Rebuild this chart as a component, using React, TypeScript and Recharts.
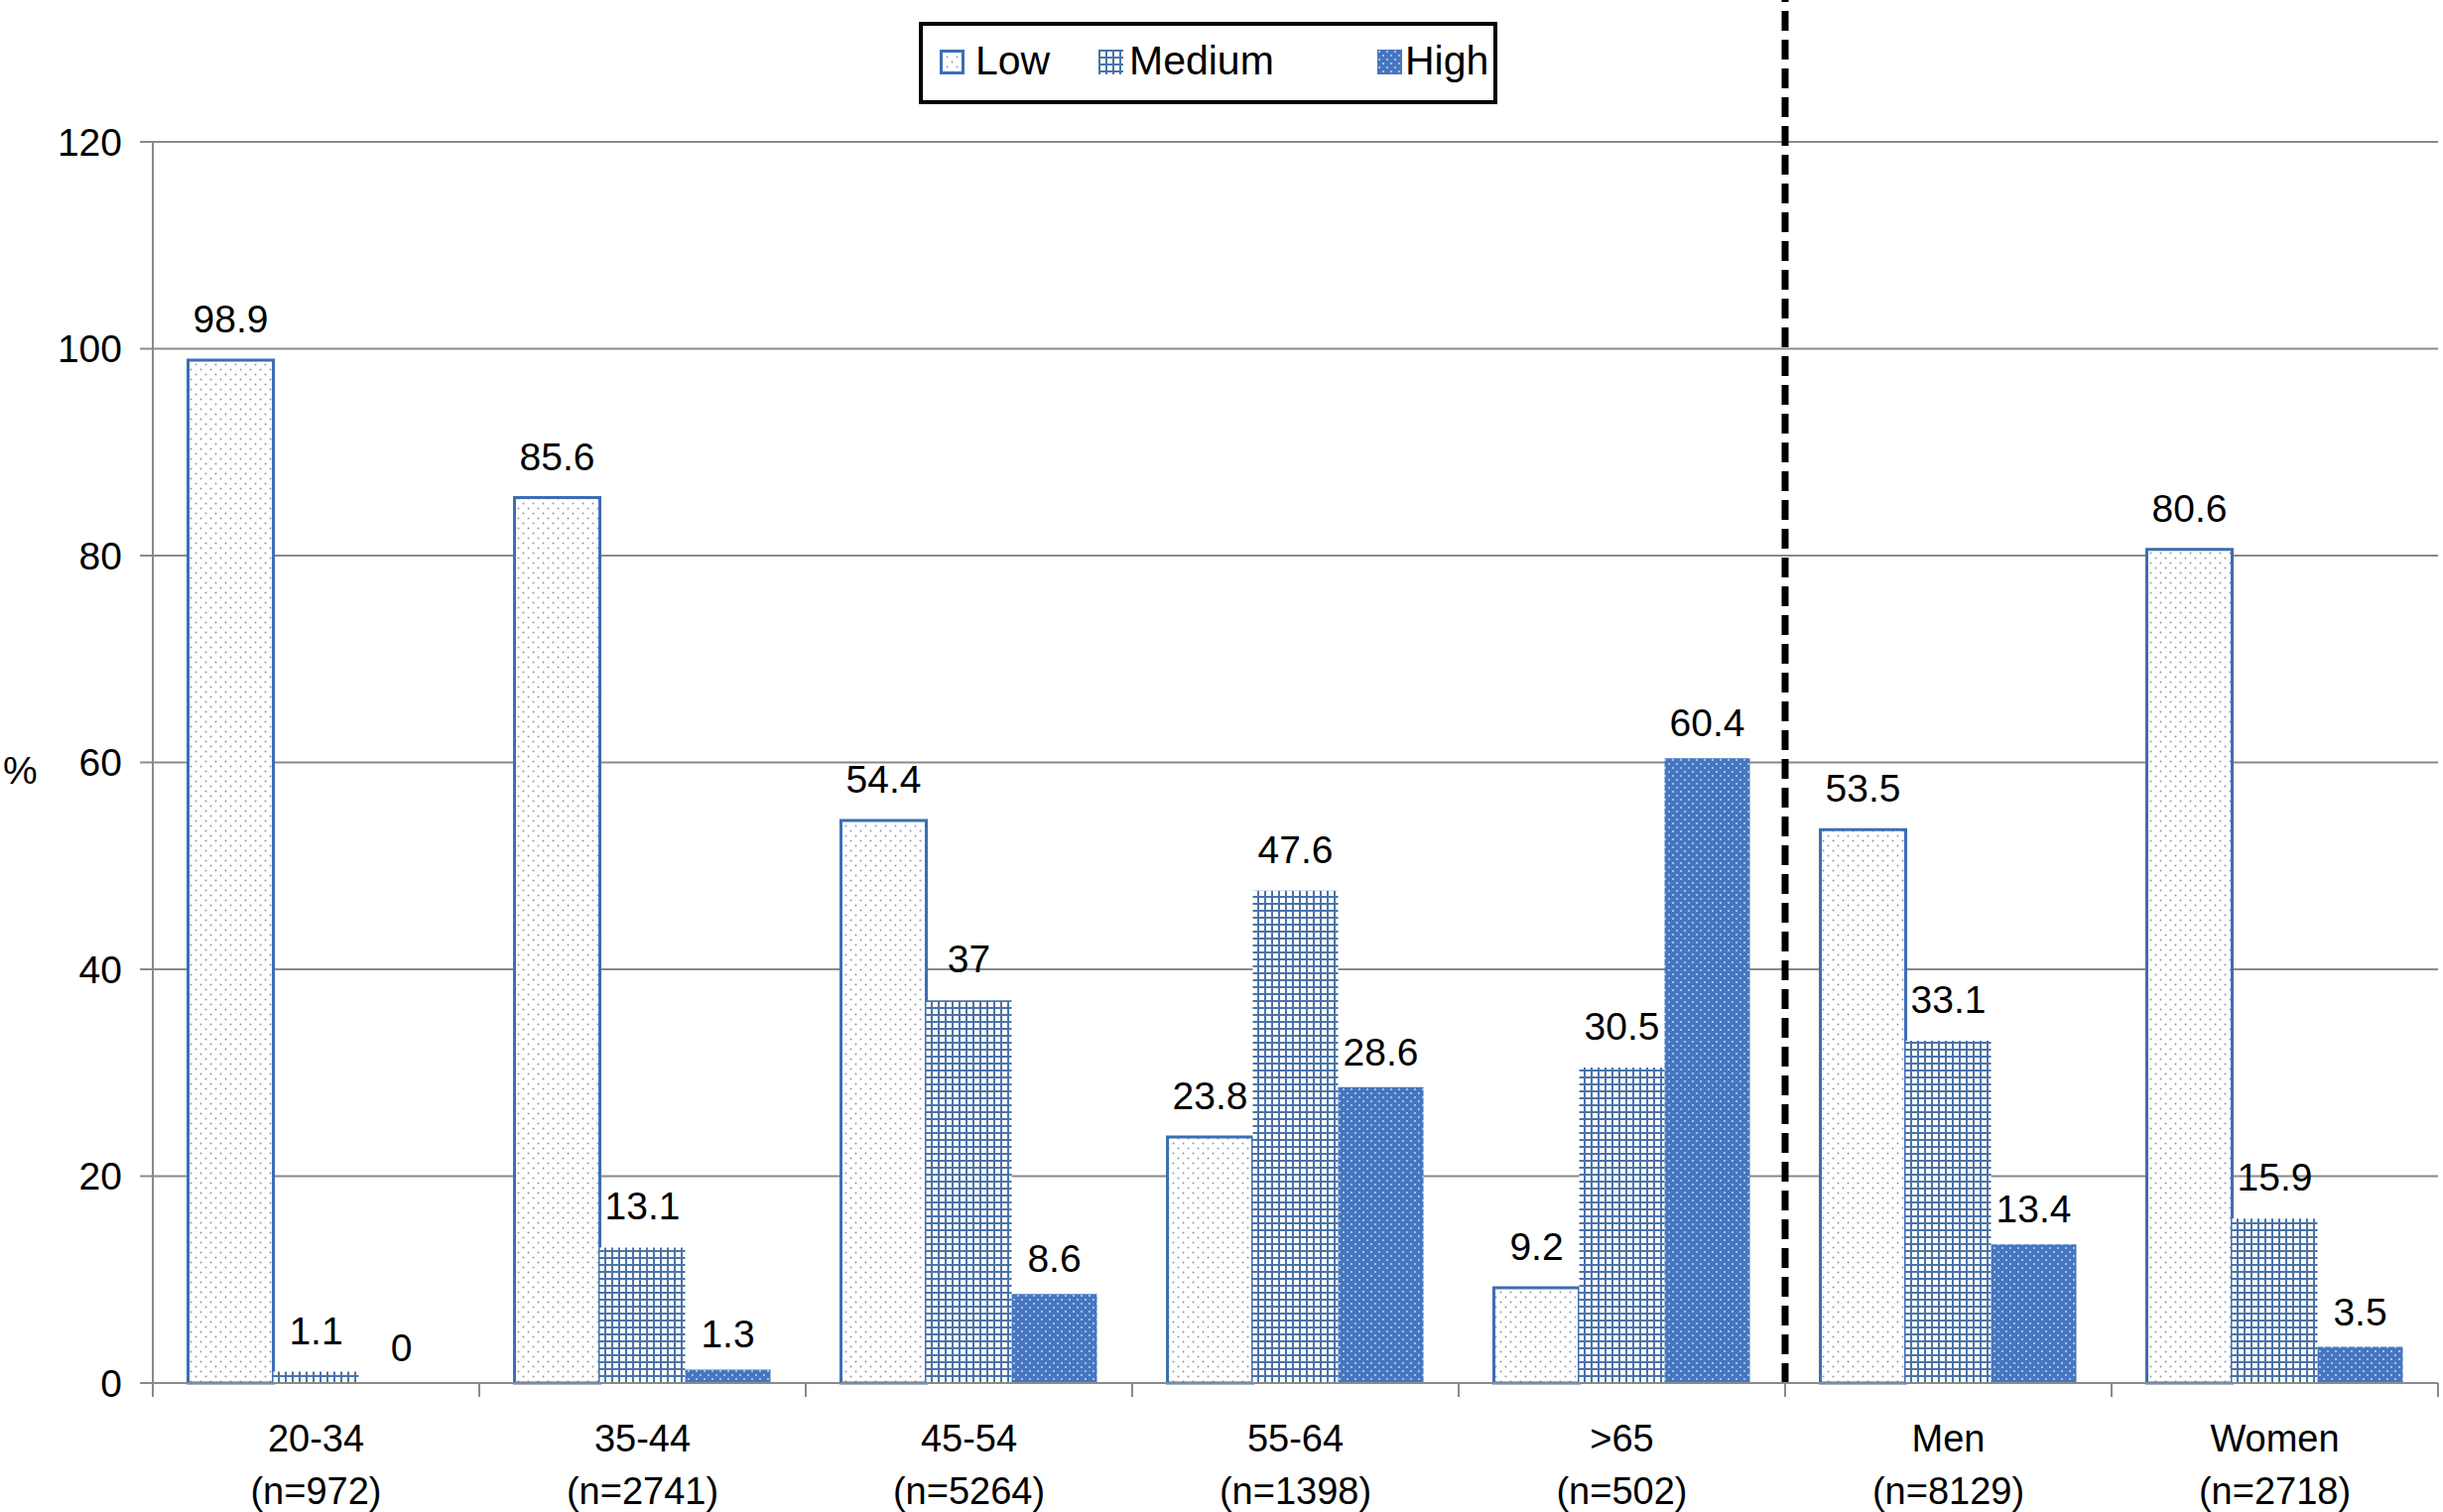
import React from "react";
import {
  BarChart,
  Bar,
  XAxis,
  YAxis,
  CartesianGrid,
  LabelList,
  Legend,
  ReferenceLine,
} from "recharts";

// groups on the x axis
const categories = ["20-34", "35-44", "45-54", "55-64", ">65", "Men", "Women"];
const sampleSizes = ["(n=972)", "(n=2741)", "(n=5264)", "(n=1398)", "(n=502)", "(n=8129)", "(n=2718)"];

// % per level
const lowValues = [98.9, 85.6, 54.4, 23.8, 9.2, 53.5, 80.6];
const mediumValues = [1.1, 13.1, 37, 47.6, 30.5, 33.1, 15.9];
const highValues = [0, 1.3, 8.6, 28.6, 60.4, 13.4, 3.5];

const yTicks = [0, 20, 40, 60, 80, 100, 120];
const dividerBefore = "Men"; // dashed line between age groups and sex

const data = categories.map((name, i) => ({
  name,
  low: lowValues[i],
  medium: mediumValues[i],
  high: highValues[i],
}));

const FONT = "'Liberation Sans', Arial, Helvetica, sans-serif";
const BLUE = "#3c6db4";
const AXIS = "#8a8a8a";

const CHART_W = 2462;
const PLOT_LEFT = 154;
const PLOT_RIGHT_MARGIN = 5;
const HALF_BAND = (CHART_W - PLOT_LEFT - PLOT_RIGHT_MARGIN) / categories.length / 2;

const XTick = (props: any) => {
  const { x, y, payload, index } = props;
  const i = payload?.index ?? index;
  const last = i === categories.length - 1;
  return (
    <g>
      <line x1={x - HALF_BAND} x2={x - HALF_BAND} y1={y} y2={y + 14} stroke={AXIS} strokeWidth={2} />
      {last && (
        <line x1={x + HALF_BAND} x2={x + HALF_BAND} y1={y} y2={y + 14} stroke={AXIS} strokeWidth={2} />
      )}
      <text x={x} y={y + 69} textAnchor="middle" fontSize={38} fill="#000">
        {payload.value}
      </text>
      <text x={x} y={y + 122} textAnchor="middle" fontSize={38} fill="#000">
        {sampleSizes[i]}
      </text>
    </g>
  );
};

const LegendIcon = ({ id, stroke }: { id: string; stroke?: string }) => (
  <svg width={25} height={25} style={{ display: "block" }}>
    <rect
      x={stroke ? 1.5 : 0}
      y={stroke ? 1.5 : 0}
      width={stroke ? 22 : 25}
      height={stroke ? 22 : 25}
      fill={`url(#${id})`}
      stroke={stroke || "none"}
      strokeWidth={3}
    />
  </svg>
);

const legendItems = [
  { label: "Low", id: "pLow", stroke: BLUE, icon: 21, text: 57 },
  { label: "Medium", id: "pMed", stroke: undefined, icon: 181, text: 212 },
  { label: "High", id: "pHigh", stroke: undefined, icon: 462, text: 490 },
];

const LegendBox = () => (
  <div
    style={{
      position: "relative",
      width: 583,
      height: 83,
      boxSizing: "border-box",
      border: "4px solid #000",
      background: "#fff",
      fontFamily: FONT,
      fontSize: 41,
      color: "#000",
    }}
  >
    {legendItems.map((it) => (
      <React.Fragment key={it.label}>
        <div style={{ position: "absolute", left: it.icon - 4, top: 24 }}>
          <LegendIcon id={it.id} stroke={it.stroke} />
        </div>
        <div style={{ position: "absolute", left: it.text - 4, top: 11, lineHeight: "48px" }}>
          {it.label}
        </div>
      </React.Fragment>
    ))}
  </div>
);

// zero-value bars still need their "0" label, so give them a hairline height
const keepZero = (value: any) => (Number(value) === 0 ? 0.01 : 0);

export default function App() {
  return (
    <div style={{ position: "absolute", left: 0, top: 0, background: "#fff", fontFamily: FONT }}>
      <BarChart
        width={CHART_W}
        height={1524}
        data={data}
        margin={{ top: 143, right: PLOT_RIGHT_MARGIN, bottom: 0, left: 0 }}
        barCategoryGap="10.8%"
        barGap={0}
      >
        <defs>
          <pattern id="pLow" width="10" height="10" patternUnits="userSpaceOnUse">
            <rect width="10" height="10" fill="#fff" />
            <circle cx="2.5" cy="2.5" r="1" fill="#8e98a8" />
            <circle cx="7.5" cy="7.5" r="1" fill="#8e98a8" />
          </pattern>
          <pattern id="pMed" width="7" height="7" patternUnits="userSpaceOnUse">
            <rect width="7" height="7" fill="#fff" />
            <rect x="0" y="0" width="7" height="2" fill="#4a73a8" />
            <rect x="0" y="0" width="2" height="7" fill="#4a73a8" />
          </pattern>
          <pattern id="pHigh" width="8" height="8" patternUnits="userSpaceOnUse">
            <rect width="8" height="8" fill="#4676c0" />
            <circle cx="2" cy="2" r="0.9" fill="#d2e2f6" />
            <circle cx="6" cy="6" r="0.9" fill="#d2e2f6" />
          </pattern>
        </defs>
        <CartesianGrid vertical={false} stroke={AXIS} strokeWidth={2} />
        <XAxis
          dataKey="name"
          height={130}
          tickLine={false}
          tickSize={0}
          tickMargin={0}
          axisLine={{ stroke: AXIS, strokeWidth: 2 }}
          tick={<XTick />}
          interval={0}
        />
        <YAxis
          domain={[0, 120]}
          ticks={yTicks}
          width={PLOT_LEFT}
          tickSize={13}
          tickMargin={18}
          axisLine={{ stroke: AXIS, strokeWidth: 2 }}
          tickLine={{ stroke: AXIS, strokeWidth: 2 }}
          tick={{ fontSize: 39, fill: "#000" }}
          label={{ value: "%", position: "insideLeft", offset: 3, dy: 8, fontSize: 39, fill: "#000" }}
        />
        <Legend
          layout="horizontal"
          verticalAlign="middle"
          align="center"
          wrapperStyle={{ position: "absolute", left: 926, top: 22, width: 583, height: 83 }}
          content={() => <LegendBox />}
        />
        <Bar dataKey="low" name="Low" fill="url(#pLow)" stroke={BLUE} strokeWidth={3} isAnimationActive={false}>
          <LabelList dataKey="low" position="top" offset={28} fontSize={39} fill="#000" />
        </Bar>
        <Bar dataKey="medium" name="Medium" fill="url(#pMed)" isAnimationActive={false}>
          <LabelList dataKey="medium" position="top" offset={28} fontSize={39} fill="#000" />
        </Bar>
        <Bar dataKey="high" name="High" fill="url(#pHigh)" minPointSize={keepZero} isAnimationActive={false}>
          <LabelList dataKey="high" position="top" offset={22} fontSize={39} fill="#000" />
        </Bar>
        <ReferenceLine
          segment={[
            { x: dividerBefore, y: 0 },
            { x: dividerBefore, y: 134 },
          ]}
          position="start"
          ifOverflow="visible"
          stroke="#000"
          strokeWidth={7}
          strokeDasharray="20 9"
        />
      </BarChart>
    </div>
  );
}
